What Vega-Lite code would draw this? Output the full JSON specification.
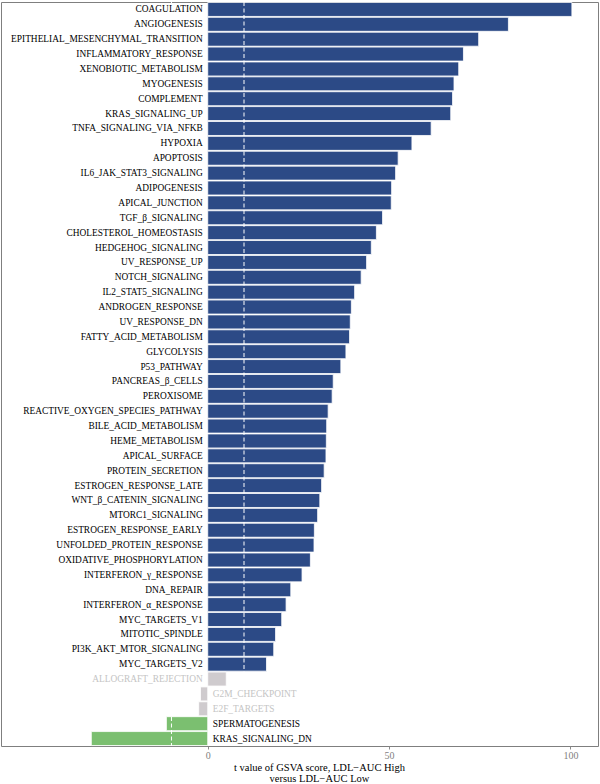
{
  "$schema": "https://vega.github.io/schema/vega-lite/v6.json",
  "width": 597,
  "height": 744,
  "padding": {"left": 1, "top": 1, "right": 2, "bottom": 0},
  "config": {
    "view": {"stroke": "#7f7f7f", "strokeWidth": 1},
    "font": "Liberation Serif"
  },
  "datasets": {
    "pathways": [
      {"pathway": "COAGULATION", "t": 100.4, "group": "Up"},
      {"pathway": "ANGIOGENESIS", "t": 82.9, "group": "Up"},
      {"pathway": "EPITHELIAL_MESENCHYMAL_TRANSITION", "t": 74.7, "group": "Up"},
      {"pathway": "INFLAMMATORY_RESPONSE", "t": 70.5, "group": "Up"},
      {"pathway": "XENOBIOTIC_METABOLISM", "t": 69.2, "group": "Up"},
      {"pathway": "MYOGENESIS", "t": 67.9, "group": "Up"},
      {"pathway": "COMPLEMENT", "t": 67.5, "group": "Up"},
      {"pathway": "KRAS_SIGNALING_UP", "t": 67.0, "group": "Up"},
      {"pathway": "TNFA_SIGNALING_VIA_NFKB", "t": 61.6, "group": "Up"},
      {"pathway": "HYPOXIA", "t": 56.3, "group": "Up"},
      {"pathway": "APOPTOSIS", "t": 52.5, "group": "Up"},
      {"pathway": "IL6_JAK_STAT3_SIGNALING", "t": 51.8, "group": "Up"},
      {"pathway": "ADIPOGENESIS", "t": 50.7, "group": "Up"},
      {"pathway": "APICAL_JUNCTION", "t": 50.6, "group": "Up"},
      {"pathway": "TGF_β_SIGNALING", "t": 48.2, "group": "Up"},
      {"pathway": "CHOLESTEROL_HOMEOSTASIS", "t": 46.5, "group": "Up"},
      {"pathway": "HEDGEHOG_SIGNALING", "t": 45.1, "group": "Up"},
      {"pathway": "UV_RESPONSE_UP", "t": 43.8, "group": "Up"},
      {"pathway": "NOTCH_SIGNALING", "t": 42.3, "group": "Up"},
      {"pathway": "IL2_STAT5_SIGNALING", "t": 40.5, "group": "Up"},
      {"pathway": "ANDROGEN_RESPONSE", "t": 39.6, "group": "Up"},
      {"pathway": "UV_RESPONSE_DN", "t": 39.3, "group": "Up"},
      {"pathway": "FATTY_ACID_METABOLISM", "t": 39.1, "group": "Up"},
      {"pathway": "GLYCOLYSIS", "t": 38.1, "group": "Up"},
      {"pathway": "P53_PATHWAY", "t": 36.7, "group": "Up"},
      {"pathway": "PANCREAS_β_CELLS", "t": 34.6, "group": "Up"},
      {"pathway": "PEROXISOME", "t": 34.3, "group": "Up"},
      {"pathway": "REACTIVE_OXYGEN_SPECIES_PATHWAY", "t": 33.2, "group": "Up"},
      {"pathway": "BILE_ACID_METABOLISM", "t": 32.8, "group": "Up"},
      {"pathway": "HEME_METABOLISM", "t": 32.7, "group": "Up"},
      {"pathway": "APICAL_SURFACE", "t": 32.6, "group": "Up"},
      {"pathway": "PROTEIN_SECRETION", "t": 32.1, "group": "Up"},
      {"pathway": "ESTROGEN_RESPONSE_LATE", "t": 31.4, "group": "Up"},
      {"pathway": "WNT_β_CATENIN_SIGNALING", "t": 30.9, "group": "Up"},
      {"pathway": "MTORC1_SIGNALING", "t": 30.3, "group": "Up"},
      {"pathway": "ESTROGEN_RESPONSE_EARLY", "t": 29.4, "group": "Up"},
      {"pathway": "UNFOLDED_PROTEIN_RESPONSE", "t": 29.3, "group": "Up"},
      {"pathway": "OXIDATIVE_PHOSPHORYLATION", "t": 28.3, "group": "Up"},
      {"pathway": "INTERFERON_γ_RESPONSE", "t": 26.0, "group": "Up"},
      {"pathway": "DNA_REPAIR", "t": 22.9, "group": "Up"},
      {"pathway": "INTERFERON_α_RESPONSE", "t": 21.6, "group": "Up"},
      {"pathway": "MYC_TARGETS_V1", "t": 20.4, "group": "Up"},
      {"pathway": "MITOTIC_SPINDLE", "t": 18.7, "group": "Up"},
      {"pathway": "PI3K_AKT_MTOR_SIGNALING", "t": 18.2, "group": "Up"},
      {"pathway": "MYC_TARGETS_V2", "t": 16.2, "group": "Up"},
      {"pathway": "ALLOGRAFT_REJECTION", "t": 5.1, "group": "NS"},
      {"pathway": "G2M_CHECKPOINT", "t": -2.0, "group": "NS"},
      {"pathway": "E2F_TARGETS", "t": -2.5, "group": "NS"},
      {"pathway": "SPERMATOGENESIS", "t": -11.4, "group": "Down"},
      {"pathway": "KRAS_SIGNALING_DN", "t": -32.1, "group": "Down"}
    ],
    "cutoffs": [{"cut": -10}, {"cut": 10}]
  },
  "layer": [
    {
      "data": {"name": "pathways"},
      "mark": {"type": "bar", "stroke": "#ffffff", "strokeWidth": 0.8},
      "encoding": {
        "y": {"field": "pathway", "type": "nominal", "sort": null, "axis": null,
              "scale": {"paddingInner": 0.06, "paddingOuter": 0.03}},
        "x": {"field": "t", "type": "quantitative",
              "scale": {"domain": [-57, 107.6], "nice": false, "zero": false},
              "axis": {
                "values": [0, 50, 100], "grid": false, "domain": false,
                "tickColor": "#8a8a8a", "tickSize": 3,
                "labelColor": "#7f7f7f", "labelFontSize": 10, "labelPadding": 1,
                "title": ["t value of GSVA score, LDL−AUC High", "versus LDL−AUC Low"],
                "titleFontSize": 10.5, "titleFontWeight": "normal", "titleColor": "#000000",
                "titleLineHeight": 11.5, "titlePadding": 2, "titleX": 318
              }},
        "color": {"field": "group", "type": "nominal", "legend": null,
                  "scale": {"domain": ["Up", "NS", "Down"], "range": ["#2c4a86", "#cfcbce", "#7bbf70"]}}
      }
    },
    {
      "data": {"name": "cutoffs"},
      "mark": {"type": "rule", "color": "#ffffff", "strokeWidth": 1, "strokeDash": [4, 2.5]},
      "encoding": {"x": {"field": "cut", "type": "quantitative"}}
    },
    {
      "data": {"name": "pathways"},
      "transform": [{"filter": "datum.t > 0"}],
      "mark": {"type": "text", "align": "right", "baseline": "middle", "dx": -5, "fontSize": 9.4},
      "encoding": {
        "y": {"field": "pathway", "type": "nominal", "sort": null},
        "x": {"datum": 0, "type": "quantitative"},
        "text": {"field": "pathway"},
        "color": {"condition": {"test": "datum.group === 'NS'", "value": "#c4c4c4"}, "value": "#000000"}
      }
    },
    {
      "data": {"name": "pathways"},
      "transform": [{"filter": "datum.t < 0"}],
      "mark": {"type": "text", "align": "left", "baseline": "middle", "dx": 5, "fontSize": 9.4},
      "encoding": {
        "y": {"field": "pathway", "type": "nominal", "sort": null},
        "x": {"datum": 0, "type": "quantitative"},
        "text": {"field": "pathway"},
        "color": {"condition": {"test": "datum.group === 'NS'", "value": "#c4c4c4"}, "value": "#000000"}
      }
    }
  ]
}
